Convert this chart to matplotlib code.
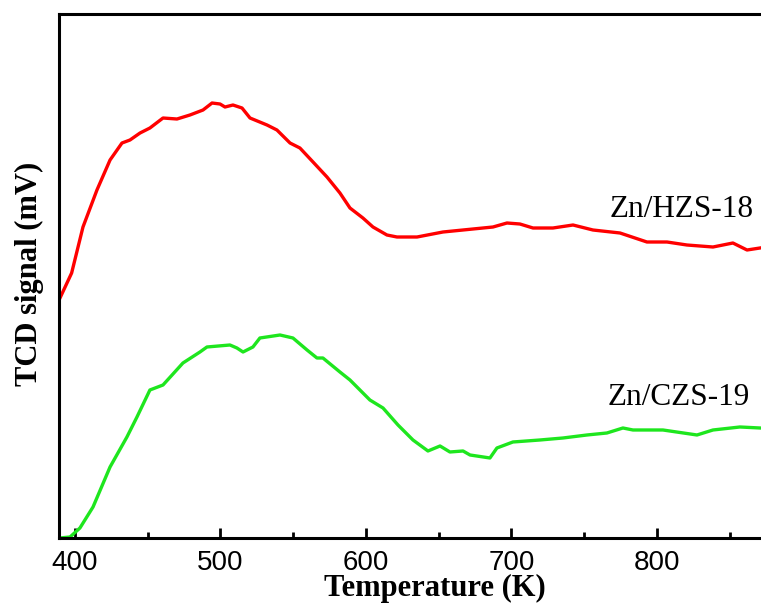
import numpy as np
import matplotlib.pyplot as plt

# Zn/HZS-18 (red)
T_hzs = [389.7, 397.7, 405.5, 415.1, 424.1, 432.3, 437.8, 444.7, 451.5, 460.5,
         470.1, 479.0, 488.0, 494.2, 499.7, 503.1, 508.6, 514.8, 520.3, 532.0,
         538.8, 547.8, 554.6, 563.6, 573.2, 582.1, 589.0, 597.9, 604.8, 614.4,
         621.3, 635.1, 652.9, 673.5, 687.3, 696.9, 705.8, 714.8, 728.5, 742.3,
         756.0, 774.6, 793.1, 806.9, 820.6, 838.5, 852.2, 861.9, 870.8]
S_hzs = [24.0, 26.5, 31.1, 34.8, 37.8, 39.5, 39.8, 40.5, 41.0, 42.0,
         41.9, 42.3, 42.8, 43.5, 43.4, 43.1, 43.3, 43.0, 42.0, 41.3,
         40.8, 39.5, 39.0, 37.6, 36.1, 34.5, 33.0, 32.0, 31.1, 30.3,
         30.1, 30.1, 30.6, 30.9, 31.1, 31.5, 31.4, 31.0, 31.0, 31.3,
         30.8, 30.5, 29.6, 29.6, 29.3, 29.1, 29.5, 28.8, 29.0]

# Zn/CZS-19 (green)
T_czs = [389.7, 396.6, 403.4, 412.4, 424.1, 435.7, 442.6, 451.5, 460.5, 474.2,
         485.9, 490.7, 506.5, 511.3, 515.5, 522.3, 527.1, 540.9, 549.8, 559.5,
         566.3, 570.4, 582.1, 589.0, 602.7, 611.7, 622.0, 632.3, 642.6, 650.9,
         657.7, 666.7, 671.5, 685.2, 690.0, 701.0, 719.6, 735.4, 751.9, 765.6,
         776.6, 783.5, 804.1, 827.5, 838.5, 857.0, 870.8]
S_czs = [0.0, 0.1, 1.0, 3.1, 7.1, 10.1, 12.1, 14.8, 15.3, 17.5,
         18.6, 19.1, 19.3, 19.0, 18.6, 19.1, 20.0, 20.3, 20.0, 18.8,
         18.0, 18.0, 16.6, 15.8, 13.8, 13.0, 11.3, 9.8, 8.7, 9.2,
         8.6, 8.7, 8.3, 8.0, 9.0, 9.6, 9.8, 10.0, 10.3, 10.5,
         11.0, 10.8, 10.8, 10.3, 10.8, 11.1, 11.0]

fig = plt.figure(figsize=(7.61, 6.04), dpi=100)
ax = fig.add_axes([0.0775, 0.1093, 0.9225, 0.8675])

ax.plot(T_hzs, S_hzs, color='#ff0000', lw=2.4)
ax.plot(T_czs, S_czs, color='#1ee61e', lw=2.4)

ax.text(767.7, 32.1, 'Zn/HZS-18', family='Liberation Serif', fontsize=22.5, va='baseline')
ax.text(766.3, 13.3, 'Zn/CZS-19', family='Liberation Serif', fontsize=22.5, va='baseline')

ax.set_xlim(389, 871.5)
ax.set_ylim(0, 52.4)
ax.set_xticks([400, 500, 600, 700, 800])
ax.set_xticks([450, 550, 650, 750, 850], minor=True)
ax.set_yticks([])
ax.tick_params(axis='x', which='major', direction='in', length=7, width=2,
               labelsize=20, pad=9)
ax.tick_params(axis='x', which='minor', direction='in', length=4, width=2)
for lab in ax.get_xticklabels():
    lab.set_family('Liberation Sans')

for s in ['left', 'top', 'bottom']:
    ax.spines[s].set_linewidth(2.2)
ax.spines['right'].set_visible(False)

ax.set_xlabel('Temperature (K)', family='Liberation Serif', fontweight='bold', fontsize=22)
ax.set_ylabel('TCD signal (mV)', family='Liberation Serif', fontweight='bold', fontsize=22)
ax.xaxis.set_label_coords(0.536, -0.069)
ax.yaxis.set_label_coords(-0.021, 0.504)

fig.savefig('out.png', dpi=100)
